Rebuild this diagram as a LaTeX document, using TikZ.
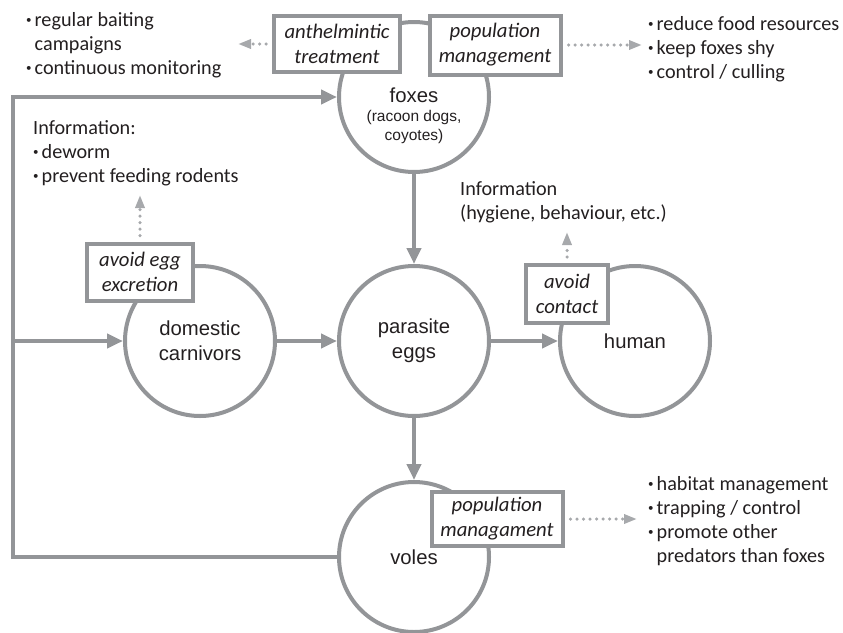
\documentclass[tikz,border=0pt]{standalone}
\usepackage{fontspec}
\setmainfont{Carlito}
\newfontfamily\arialfont{Liberation Sans}
\usetikzlibrary{arrows.meta,positioning}
\definecolor{linegray}{HTML}{939598}
\definecolor{dotgray}{HTML}{A7A9AC}
\definecolor{ink}{HTML}{231F20}
\newcommand{\bitem}{\makebox[8.5pt][l]{\raisebox{2.5pt}{\fontsize{11}{11}\selectfont•}}}
\newcommand{\bcont}{\hspace*{8.5pt}}
\tikzset{
  host/.style={circle, draw=linegray, line width=4pt, minimum size=150pt, inner sep=0pt, align=center, text=ink, font=\arialfont\fontsize{20.3}{25}\selectfont},
  hostname/.style={inner sep=0pt, align=center, text=ink, font=\arialfont\fontsize{20.3}{25}\selectfont},
  hostsub/.style={inner sep=0pt, align=center, text=ink, font=\arialfont\fontsize{15.5}{19}\selectfont},
  measure/.style={rectangle, draw=linegray, line width=4pt, fill=white, align=center, inner sep=0pt, text=ink, font=\itshape\fontsize{20.7}{25}\selectfont},
  listing/.style={anchor=north west, inner sep=0pt, align=left, text=ink, font=\fontsize{20.2}{24}\selectfont},
  flow/.style={-{Triangle[length=16pt,width=14pt]}, draw=linegray, line width=4pt},
  hint/.style={-{Triangle[length=13pt,width=9pt]}, draw=dotgray, line width=3.5pt, line cap=round, dash pattern=on 0pt off 6.5pt, shorten <=6pt}
}
\begin{document}
\begin{tikzpicture}[x=1pt,y=-1pt]
  \useasboundingbox (0,0) rectangle (843,632);

  % hosts
  \node[host] (foxes) at (414,97) {};
  \node[hostname] (foxesname) at (414,95) {foxes};
  \node[hostsub] (foxesalt) at (414,127) {(racoon dogs,\\coyotes)};
  \node[host] (domestic) at (200,341) {domestic\\carnivors};
  \node[host] (eggs) at (414,341) {parasite\\eggs};
  \node[host] (human) at (635,341) {\raisebox{-4pt}{human}};
  \node[host] (voles) at (414,557) {\raisebox{-5pt}{voles}};

  % transmission
  \coordinate (looptop) at (13,97);
  \coordinate (loopmid) at (13,341);
  \coordinate (loopbot) at (13,557);
  \draw[flow] (voles.west) -- (loopbot) -- (looptop) -- (foxes.west);
  \draw[flow] (loopmid) -- (domestic.west);
  \draw[flow] (foxes.south) -- (eggs.north);
  \draw[flow] (domestic.east) -- (eggs.west);
  \draw[flow] (eggs.east) -- (human.west);
  \draw[flow] (eggs.south) -- (voles.north);

  % measures
  \node[measure, minimum width=126pt, minimum height=56pt] (treat) at (337,44) {anthelmintic\\treatment};
  \node[measure, minimum width=131pt, minimum height=59pt] (foxpop) at (495,45) {population\\management};
  \node[measure, minimum width=106pt, minimum height=57pt] (excrete) at (140,272) {avoid egg\\excretion};
  \node[measure, minimum width=82pt, minimum height=58pt] (contact) at (567,294) {avoid\\contact};
  \node[measure, minimum width=131pt, minimum height=54pt] (volepop) at (497,519) {population\\managament};

  % what they mean
  \node[listing] (baitlist) at (26,12) {\bitem regular baiting\\\bcont campaigns\\\bitem continuous monitoring};
  \node[listing] (culllist) at (648,16) {\bitem reduce food resources\\\bitem keep foxes shy\\\bitem control / culling};
  \node[listing] (dewormlist) at (33,120) {Information:\\\bitem deworm\\\bitem prevent feeding rodents};
  \node[listing] (hygiene) at (460,181) {Information\\(hygiene, behaviour, etc.)};
  \node[listing] (habitatlist) at (648,476) {\bitem habitat management\\\bitem trapping / control\\\bitem promote other\\\bcont predators than foxes};

  \coordinate (treatend) at (238,44);
  \coordinate (foxpopend) at (642,45);
  \coordinate (excreteend) at (140,195);
  \coordinate (contactend) at (567,232);
  \coordinate (volepopend) at (637,519);
  \draw[hint] (treat.west) -- (treatend);
  \draw[hint] (foxpop.east) -- (foxpopend);
  \draw[hint] (excrete.north) -- (excreteend);
  \draw[hint] (contact.north) -- (contactend);
  \draw[hint] (volepop.east) -- (volepopend);
\end{tikzpicture}
\end{document}
